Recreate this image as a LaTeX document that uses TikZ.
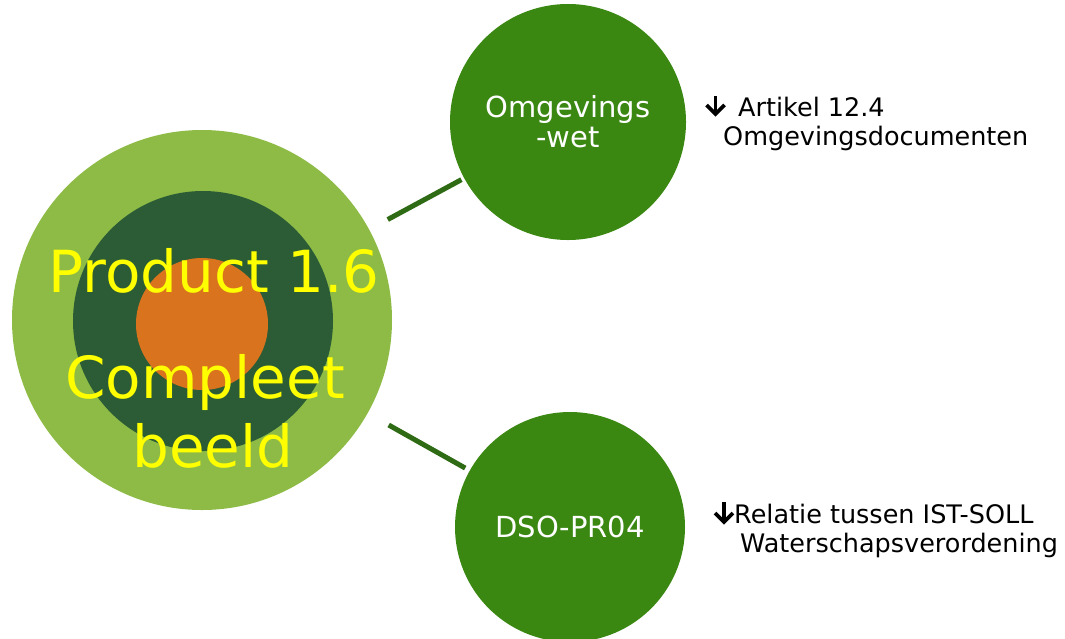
\documentclass[tikz,border=0pt]{standalone}
\usepackage{fontspec}
\setmainfont{DejaVu Sans}
\definecolor{lightg}{HTML}{8DBB45}
\definecolor{darkg}{HTML}{2B5C36}
\definecolor{orng}{HTML}{D9731E}
\definecolor{nodeg}{HTML}{3A8712}
\definecolor{lineg}{HTML}{2F6A15}
\definecolor{yel}{HTML}{FFFF00}
\tikzset{
  bubble/.style={circle, fill=nodeg, inner sep=0pt, minimum size=#1, text=white, font=\fontsize{29}{30}\selectfont, align=center},
  ring/.style={circle, inner sep=0pt, minimum size=#1},
  bigtxt/.style={anchor=base, text=yel, font=\fontsize{58}{60}\selectfont, inner sep=0pt},
  side/.style={anchor=base west, inner sep=0pt, font=\fontsize{25.5}{28}\selectfont},
  link/.style={draw=lineg, line width=5pt},
  glyph/.style={draw=black, line width=3.8pt, line join=miter, line cap=butt},
}
\begin{document}
\begin{tikzpicture}[x=1pt,y=-1pt]
\useasboundingbox (0,0) rectangle (1065,638);
\clip (0,0) rectangle (1065,638);
\node[ring=380pt, fill=lightg] (big) at (202,320) {};
\node[ring=260pt, fill=darkg] (mid) at (203,321) {};
\node[ring=132pt, fill=orng] (core) at (202,324) {};
\node[bigtxt] (t1) at (214,292) {Product 1.6};
\node[bigtxt] (t2) at (205,398) {Compleet};
\node[bigtxt] (t3) at (213,467) {beeld};
\node[bubble=236pt] (top) at (568,122) {Omgevings\\-wet};
\node[bubble=230pt] (bot) at (570,527) {DSO-PR04};
\draw[link, shorten <=21pt, shorten >=3pt] (big) -- (top);
\draw[link, shorten <=24pt, shorten >=5pt] (big) -- (bot);
% heavy down arrows
\draw[glyph] (715.5,96) -- (715.5,113);
\draw[glyph] (706.5,105) -- (715.5,114) -- (724.5,105);
\draw[glyph] (724,502) -- (724,521);
\draw[glyph] (715,513) -- (724,522) -- (733,513);
\node[side] (a1) at (738,116) {Artikel 12.4};
\node[side] (a2) at (723,145) {Omgevingsdocumenten};
\node[side] (b1) at (734,523) {Relatie tussen IST-SOLL};
\node[side] (b2) at (740,552) {Waterschapsverordening};
\end{tikzpicture}
\end{document}
